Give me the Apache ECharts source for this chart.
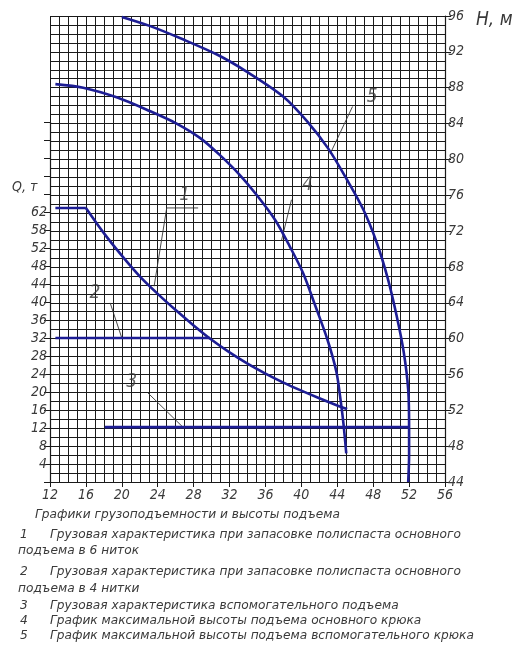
<!DOCTYPE html>
<html>
<head>
<meta charset="utf-8">
<script src="https://cdn.jsdelivr.net/npm/echarts@6/dist/echarts.min.js"></script>
<style>
html,body{margin:0;padding:0;background:#fff;}
#c{width:514px;height:663px;}
</style>
</head>
<body>
<div id="c"></div>
<script>
// ---- data ----
const qTickValues = [4, 8, 12, 16, 20, 24, 28, 32, 36, 40, 44, 48, 52, 56, 60];
const qTickLabels = ['4', '8', '12', '16', '20', '24', '28', '32', '36', '40', '44', '48', '52', '58', '62'];

// Q, t vs reach (m)
const curve1 = [[12.6,60.9],[16.0,60.9],[18,55.3],[20,50.3],[22,45.7],[24,41.8],[26,38.2],[28,34.8],[30,31.6],[32,28.8],[34,26.3],[36,24.1],[38,22.1],[40,20.3],[42,18.6],[44,17.0],[45.1,16.2]];
const curve2 = [[12.6,32.0],[29.8,32.0]];
const curve3 = [[18.1,12.2],[51.9,12.2]];
// H, m vs reach (m)
const curve4 = [[12.6,88.4],[15.7,88.0],[19.5,86.9],[23.1,85.4],[26.1,84.0],[28.7,82.4],[30.9,80.5],[33.2,78.2],[35.2,75.8],[37.1,73.2],[38.7,70.3],[40.2,67.3],[41.5,63.8],[42.9,59.9],[43.9,56.3],[44.4,52.9],[44.7,50.4],[45.0,47.2]];
const curve5 = [[20.0,95.9],[23.1,94.9],[26.8,93.4],[30.6,91.7],[33.9,89.8],[38.0,87.0],[40.6,84.3],[43.0,81.2],[45.1,77.7],[46.9,74.4],[48.4,70.7],[49.6,66.8],[50.6,62.6],[51.4,58.5],[51.9,54.3],[52.0,50.1],[52.0,47.0],[51.9,44.0]];

// leader lines and curve numbers
const leader1 = [[28.5,60.9],[25.0,60.9],[23.6,43.5]];
const leader2 = [[18.7,39.8],[20.0,32.0]];
const leader3 = [[22.9,19.8],[26.8,12.2]];
const leader4 = [[38.9,75.5],[37.8,71.0]];
const leader5 = [[45.7,85.9],[43.2,80.6]];
const numbersQ = [[27.0,63.8,'1'],[17.0,42.0,'2'],[21.1,22.2,'3']];
const numbersH = [[40.7,77.1,'4'],[47.9,87.0,'5']];

const captionTitle = 'Графики грузоподъемности и высоты подъема';
const captionLines = [
  ['1', 'Грузовая характеристика при запасовке полиспаста основного'],
  ['', 'подъема в 6 ниток'],
  ['2', 'Грузовая характеристика при запасовке полиспаста основного'],
  ['', 'подъема в 4 нитки'],
  ['3', 'Грузовая характеристика вспомогательного подъема'],
  ['4', 'График максимальной высоты подъема основного крюка'],
  ['5', 'График максимальной высоты подъема вспомогательного крюка']
];

// ---- chart ----
const FONT = "'Liberation Sans Narrow','DejaVu Sans Condensed','DejaVu Sans',sans-serif";
const CAPFONT = "italic 12.2px 'DejaVu Sans',sans-serif";
const TXT = '#3a3a3a';
const GRIDC = '#1a1a1a';
const CURVE = '#1d1d94';

const chart = echarts.init(document.getElementById('c'), null, {renderer:'canvas'});

const curveStyle = {color: CURVE, width: 2.6};
const leaderStyle = {color: '#333', width: 0.9};

function lineSeries(data, xi, yi, style, smooth) {
  return {type:'line', xAxisIndex:xi, yAxisIndex:yi, data:data, showSymbol:false, symbol:'none',
    smooth: smooth || false, lineStyle: style, silent:true, animation:false, z: style===curveStyle?5:4};
}
function numSeries(data, xi, yi) {
  return {type:'scatter', xAxisIndex:xi, yAxisIndex:yi, data:data, symbolSize:2,
    itemStyle:{color:'rgba(0,0,0,0)'}, silent:true, animation:false, z:6,
    label:{show:true, position:'inside', formatter:p=>p.value[2], fontFamily:FONT, fontStyle:'italic', fontSize:19, color:TXT}};
}

const graphics = [
  {type:'text', left:12, top:180, style:{text:'Q, т', font:"italic 14px "+FONT, fill:TXT}},
  {type:'text', left:476, top:11, style:{text:'H, м', font:"italic 19px "+FONT, fill:TXT}},
  {type:'text', left:35, top:509, style:{text:captionTitle, font:CAPFONT, fill:TXT}}
];
const lineTops = [529, 545, 566, 583, 600, 615, 630];
captionLines.forEach((l, i) => {
  if (l[0]) graphics.push({type:'text', left:20, top:lineTops[i], style:{text:l[0], font:CAPFONT, fill:TXT}});
  graphics.push({type:'text', left: l[0] ? 50 : 18, top:lineTops[i], style:{text:l[1], font:CAPFONT, fill:TXT}});
});

const option = {
  animation:false,
  backgroundColor:'#fff',
  grid:[
    {left:50, right:69, top:16, bottom:181},
    {left:50, right:69, top:122, bottom:181}
  ],
  xAxis:[
    {type:'value', gridIndex:0, min:12, max:56, interval:4,
      axisLine:{show:true, lineStyle:{color:GRIDC, width:1.2}},
      axisTick:{show:true, length:5, lineStyle:{color:GRIDC}},
      axisLabel:{fontFamily:FONT, fontStyle:'italic', fontSize:14, color:TXT, margin:6},
      splitLine:{show:true, lineStyle:{color:GRIDC, width:1}},
      minorTick:{show:false, splitNumber:4},
      minorSplitLine:{show:true, lineStyle:{color:GRIDC, width:1}}},
    {type:'value', gridIndex:1, min:12, max:56, show:false}
  ],
  yAxis:[
    {type:'value', gridIndex:0, position:'right', min:44, max:96, interval:4,
      axisLine:{show:true, lineStyle:{color:GRIDC, width:1.2}},
      axisTick:{show:true, length:6, lineStyle:{color:GRIDC}},
      axisLabel:{fontFamily:FONT, fontStyle:'italic', fontSize:14, color:TXT, margin:3},
      splitLine:{show:true, lineStyle:{color:GRIDC, width:1}},
      minorTick:{show:false, splitNumber:4},
      minorSplitLine:{show:true, lineStyle:{color:GRIDC, width:1}}},
    {type:'value', gridIndex:1, position:'left', min:0, max:80, interval:4,
      axisLine:{show:true, lineStyle:{color:GRIDC, width:1.2}},
      axisTick:{show:true, length:6, lineStyle:{color:GRIDC}},
      axisLabel:{fontFamily:FONT, fontStyle:'italic', fontSize:14, color:TXT, margin:3,
        formatter: v => { const i = qTickValues.indexOf(v); return i >= 0 ? qTickLabels[i] : ''; }},
      splitLine:{show:false}}
  ],
  graphic: graphics,
  series:[
    lineSeries(curve1.slice(0, 2), 1, 1, curveStyle),
    lineSeries(curve1.slice(1), 1, 1, curveStyle, 0.3),
    lineSeries(curve2, 1, 1, curveStyle),
    lineSeries(curve3, 1, 1, curveStyle),
    lineSeries(curve4, 0, 0, curveStyle, 0.3),
    lineSeries(curve5, 0, 0, curveStyle, 0.3),
    lineSeries(leader1, 1, 1, leaderStyle),
    lineSeries(leader2, 1, 1, leaderStyle),
    lineSeries(leader3, 1, 1, leaderStyle),
    lineSeries(leader4, 0, 0, leaderStyle),
    lineSeries(leader5, 0, 0, leaderStyle),
    numSeries(numbersQ, 1, 1),
    numSeries(numbersH, 0, 0)
  ]
};
chart.setOption(option);
</script>
</body>
</html>
